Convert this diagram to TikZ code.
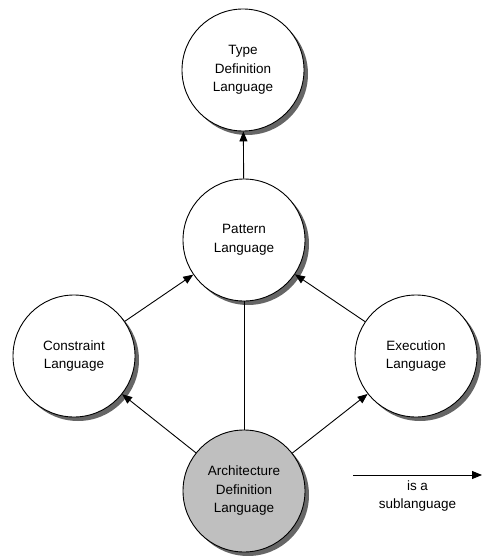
\documentclass[tikz,border=0pt]{standalone}
\usepackage{fontspec}
\setmainfont{Liberation Sans}
\usetikzlibrary{arrows.meta,shadows}

\begin{document}
\begin{tikzpicture}[
    x=1pt, y=-1pt,
    line width=0.9pt,
    lang/.style={circle, draw, fill=white, minimum size=122pt, inner sep=0pt,
        align=center, font=\fontsize{13.5}{18.5}\selectfont,
        drop shadow={shadow xshift=4pt, shadow yshift=-4pt, fill=black!60, opacity=1}},
    >={Triangle[length=10pt,width=8pt]}
]
\useasboundingbox (0,0) rectangle (483,556);

% ======================
% Languages
% ======================
\node[lang] (tdl) at (243, 70) {Type\\Definition\\Language};
\node[lang] (pl)  at (244, 240) {Pattern\\Language};
\node[lang] (cl)  at (74, 356) {Constraint\\Language};
\node[lang] (el)  at (416, 356) {Execution\\Language};
\node[lang, fill=black!25] (adl) at (244, 491) {Architecture\\Definition\\Language};

% ======================
% Sublanguage relations
% ======================
\draw[->] (pl)  -- (tdl);
\draw[->] (cl)  -- (pl);
\draw[->] (el)  -- (pl);
\draw[->] (adl) -- (cl);
\draw[->] (adl) -- (el);
\draw     (adl) -- (pl);

% ======================
% Legend
% ======================
\coordinate (legA) at (353, 475);
\coordinate (legB) at (482, 475);
\draw[->] (legA) -- node[below, align=center, inner sep=5pt,
    font=\fontsize{13.5}{18.5}\selectfont] (legtxt) {is a\\sublanguage} (legB);

\end{tikzpicture}
\end{document}
